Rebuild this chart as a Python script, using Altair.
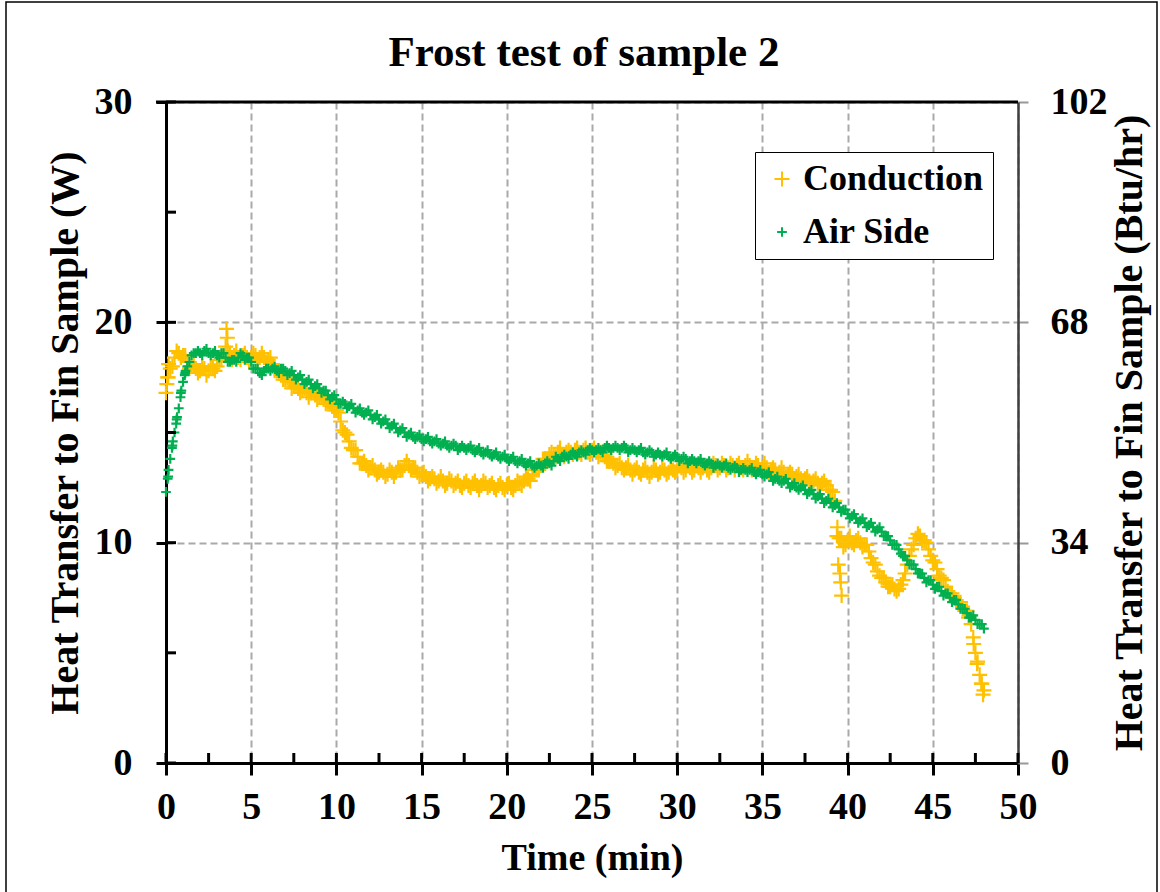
import altair as alt
import pandas as pd

# ---------------- data ----------------
SERIES = ["Conduction", "Air Side"]
COLORS = ["#FFC000", "#00B050"]

T_STEP = 0.25  # minutes between regular samples

# Conduction heat transfer (W), one row per minute: t = k, k+.25, k+.5, k+.75
COND_W = [
    16.8, 17.9, 18.4, 18.6,
    18.5, 18.2, 18.0, 17.9,
    17.8, 17.9, 17.8, 17.9,
    18.0, 18.3, 18.9, 18.6,
    18.5, 18.4, 18.5, 18.4,
    18.4, 18.5, 18.4, 18.4,
    18.3, 18.1, 17.8, 17.6,
    17.4, 17.3, 17.1, 17.0,
    16.9, 16.8, 16.8, 16.7,
    16.6, 16.5, 16.4, 16.2,
    16.0, 15.5, 15.0, 14.6,
    14.2, 13.9, 13.6, 13.5,
    13.4, 13.3, 13.2, 13.2,
    13.1, 13.2, 13.2, 13.3,
    13.5, 13.5, 13.4, 13.2,
    13.1, 13.0, 12.9, 12.9,
    12.8, 12.8, 12.7, 12.8,
    12.7, 12.6, 12.7, 12.6,
    12.7, 12.6, 12.6, 12.7,
    12.6, 12.5, 12.6, 12.5,
    12.6, 12.5, 12.6, 12.7,
    12.8, 12.9, 13.1, 13.3,
    13.5, 13.8, 14.0, 14.0,
    14.1, 14.0, 14.1, 14.1,
    14.2, 14.1, 14.2, 14.1,
    14.2, 14.1, 14.1, 13.9,
    13.7, 13.6, 13.5, 13.4,
    13.4, 13.3, 13.3, 13.2,
    13.3, 13.2, 13.2, 13.3,
    13.2, 13.3, 13.2, 13.3,
    13.3, 13.4, 13.3, 13.4,
    13.3, 13.4, 13.4, 13.3,
    13.4, 13.5, 13.4, 13.5,
    13.4, 13.5, 13.5, 13.4,
    13.5, 13.5, 13.4, 13.5,
    13.4, 13.4, 13.3, 13.3,
    13.2, 13.2, 13.1, 13.1,
    13.0, 12.9, 12.9, 12.8,
    12.8, 12.7, 12.7, 12.6,
    12.4, 11.9, 10.2, 9.8,
    10.1, 10.0, 10.1, 10.0,
    9.9, 9.6, 9.1, 8.7,
    8.4, 8.2, 8.0, 7.9,
    7.9, 8.3, 9.0, 9.7,
    10.2, 10.3, 10.1, 9.7,
    9.2, 8.8, 8.4, 8.0,
    7.7, 7.5, 7.3, 7.1,
    6.9, 6.3, 5.0, 4.0,
    3.3,
]

# Conduction samples in between (t = k+.125, k+.375, k+.625, k+.875)
COND_W_MID = [
    17.5, 18.0, 18.7, 18.4,
    18.5, 17.9, 18.1, 17.7,
    18.0, 17.6, 18.0, 17.8,
    18.3, 18.5, 18.7, 18.3,
    18.7, 18.3, 18.6, 18.2,
    18.6, 18.3, 18.6, 18.2,
    18.4, 17.8, 17.8, 17.4,
    17.5, 17.0, 17.2, 16.8,
    17.0, 16.6, 16.9, 16.5,
    16.7, 16.3, 16.4, 16.0,
    15.9, 15.1, 14.9, 14.3,
    14.2, 13.6, 13.7, 13.3,
    13.5, 13.1, 13.3, 13.0,
    13.3, 13.0, 13.4, 13.3,
    13.7, 13.3, 13.4, 13.0,
    13.2, 12.8, 13.0, 12.7,
    13.0, 12.6, 12.9, 12.6,
    12.8, 12.5, 12.8, 12.5,
    12.8, 12.4, 12.8, 12.5,
    12.7, 12.4, 12.7, 12.4,
    12.7, 12.4, 12.8, 12.6,
    13.0, 12.8, 13.3, 13.3,
    13.8, 13.7, 14.1, 13.9,
    14.3, 13.9, 14.2, 14.0,
    14.3, 14.0, 14.3, 14.0,
    14.3, 13.9, 14.1, 13.7,
    13.8, 13.4, 13.6, 13.3,
    13.5, 13.1, 13.4, 13.1,
    13.4, 13.0, 13.4, 13.1,
    13.4, 13.1, 13.4, 13.2,
    13.5, 13.2, 13.5, 13.2,
    13.5, 13.2, 13.5, 13.2,
    13.6, 13.3, 13.6, 13.3,
    13.6, 13.3, 13.6, 13.3,
    13.7, 13.3, 13.6, 13.3,
    13.6, 13.2, 13.4, 13.1,
    13.4, 13.0, 13.2, 12.9,
    13.1, 12.8, 13.0, 12.7,
    12.9, 12.6, 12.8, 12.4,
    12.3, 10.3, 10.2, 9.9,
    10.3, 9.9, 10.2, 9.8,
    9.9, 9.3, 9.0, 8.5,
    8.4, 8.0, 8.1, 7.8,
    8.1, 8.6, 9.4, 9.9,
    10.4, 10.1, 10.0, 9.4,
    9.1, 8.5, 8.3, 7.8,
    7.7, 7.3, 7.3, 6.9,
    6.7, 5.7, 4.6, 3.6,
]

# Extra conduction samples (spikes / steep parts)
COND_EXTRA_T = [0.05, 0.1, 0.15, 3.55, 3.6, 39.4, 39.45, 39.55, 39.6, 39.65, 47.1, 47.4, 47.6, 47.85, 47.95]
COND_EXTRA_W = [17.2, 17.5, 18.1, 19.7, 19.3, 10.7, 9.0, 8.6, 8.2, 7.6, 6.6, 5.4, 4.5, 3.6, 3.1]

# Air side heat transfer (W)
AIR_W = [
    12.3, 13.8, 15.0, 16.1,
    17.3, 18.0, 18.5, 18.6,
    18.6, 18.7, 18.6, 18.6,
    18.5, 18.6, 18.4, 18.2,
    18.3, 18.4, 18.5, 18.4,
    18.2, 17.9, 17.7, 17.8,
    17.9, 17.9, 17.8, 17.9,
    17.8, 17.7, 17.6, 17.5,
    17.4, 17.3, 17.2, 17.1,
    17.0, 16.9, 16.7, 16.6,
    16.5, 16.3, 16.3, 16.2,
    16.1, 16.0, 15.9, 15.9,
    15.8, 15.7, 15.6, 15.5,
    15.4, 15.3, 15.2, 15.1,
    15.0, 14.9, 14.8, 14.8,
    14.7, 14.7, 14.6, 14.6,
    14.5, 14.5, 14.4, 14.4,
    14.4, 14.3, 14.3, 14.3,
    14.2, 14.2, 14.1, 14.1,
    14.0, 14.0, 13.9, 13.9,
    13.8, 13.8, 13.7, 13.7,
    13.6, 13.6, 13.5, 13.5,
    13.5, 13.6, 13.6, 13.7,
    13.8, 13.9, 13.9, 14.0,
    14.0, 14.1, 14.1, 14.2,
    14.2, 14.2, 14.2, 14.3,
    14.3, 14.3, 14.3, 14.3,
    14.3, 14.2, 14.2, 14.2,
    14.1, 14.1, 14.1, 14.0,
    14.0, 14.0, 13.9, 13.9,
    13.9, 13.8, 13.8, 13.7,
    13.7, 13.7, 13.6, 13.6,
    13.6, 13.5, 13.5, 13.5,
    13.4, 13.4, 13.4, 13.3,
    13.3, 13.3, 13.2, 13.2,
    13.1, 13.1, 13.0, 12.9,
    12.8, 12.8, 12.7, 12.6,
    12.5, 12.5, 12.4, 12.3,
    12.2, 12.1, 12.0, 11.9,
    11.8, 11.7, 11.6, 11.5,
    11.3, 11.2, 11.1, 11.0,
    10.9, 10.8, 10.7, 10.6,
    10.5, 10.3, 10.1, 9.9,
    9.7, 9.4, 9.2, 9.0,
    8.8, 8.6, 8.4, 8.3,
    8.1, 8.0, 7.8, 7.7,
    7.5, 7.4, 7.2, 7.0,
    6.8, 6.6, 6.5, 6.3,
    6.1,
]

# Air side samples in between (t = k+.125, k+.375, k+.625, k+.875)
AIR_W_MID = [
    13.0, 14.4, 15.6, 16.8,
    17.7, 18.2, 18.6, 18.7,
    18.5, 18.8, 18.5, 18.7,
    18.4, 18.6, 18.2, 18.3,
    18.2, 18.6, 18.3, 18.4,
    17.9, 17.9, 17.6, 17.9,
    17.8, 18.0, 17.7, 17.9,
    17.6, 17.8, 17.4, 17.6,
    17.2, 17.4, 17.0, 17.2,
    16.8, 16.9, 16.5, 16.7,
    16.3, 16.4, 16.1, 16.3,
    15.9, 16.1, 15.8, 16.0,
    15.6, 15.8, 15.4, 15.6,
    15.2, 15.4, 15.0, 15.2,
    14.8, 15.0, 14.7, 14.9,
    14.6, 14.8, 14.5, 14.7,
    14.4, 14.6, 14.3, 14.5,
    14.2, 14.4, 14.2, 14.4,
    14.1, 14.3, 14.0, 14.2,
    13.9, 14.1, 13.8, 14.0,
    13.7, 13.9, 13.6, 13.8,
    13.5, 13.7, 13.4, 13.6,
    13.4, 13.7, 13.5, 13.9,
    13.7, 14.0, 13.8, 14.1,
    13.9, 14.2, 14.0, 14.3,
    14.1, 14.3, 14.1, 14.4,
    14.2, 14.4, 14.2, 14.4,
    14.1, 14.3, 14.1, 14.3,
    14.0, 14.2, 13.9, 14.1,
    13.9, 14.1, 13.8, 14.0,
    13.7, 13.9, 13.6, 13.8,
    13.6, 13.8, 13.5, 13.7,
    13.4, 13.6, 13.4, 13.6,
    13.3, 13.5, 13.2, 13.4,
    13.2, 13.4, 13.1, 13.3,
    13.0, 13.2, 12.8, 13.0,
    12.7, 12.9, 12.5, 12.7,
    12.4, 12.6, 12.2, 12.4,
    12.0, 12.2, 11.8, 12.0,
    11.6, 11.8, 11.4, 11.5,
    11.1, 11.3, 10.9, 11.1,
    10.7, 10.9, 10.5, 10.7,
    10.3, 10.3, 9.9, 9.9,
    9.5, 9.4, 9.0, 9.0,
    8.6, 8.6, 8.2, 8.3,
    7.9, 8.0, 7.6, 7.7,
    7.3, 7.4, 7.0, 7.0,
    6.6, 6.7, 6.3, 6.3,
]

# Extra air side samples on the steep initial rise
AIR_EXTRA_T = [0.1, 0.15, 0.35, 0.4, 0.6, 0.65, 0.85, 0.9, 1.1, 1.15]
AIR_EXTRA_W = [12.9, 13.3, 14.3, 14.6, 15.4, 15.7, 16.6, 16.9, 17.6, 17.8]

X_MAJOR = [0, 5, 10, 15, 20, 25, 30, 35, 40, 45, 50]
X_INNER_TICKS = [0, 2.5, 5, 7.5, 10, 12.5, 15, 17.5, 20, 22.5, 25, 27.5, 30, 32.5,
                 35, 37.5, 40, 42.5, 45, 47.5, 50]
Y_MAJOR = [0, 10, 20, 30]
Y_INNER_TICKS = [0, 5, 10, 15, 20, 25, 30]
Y2_MAJOR = [0, 34, 68, 102]

# ---------------- build table ----------------
rows = []
for i, w in enumerate(COND_W):
    rows.append({"t": round(i * T_STEP, 3), "w": w, "series": "Conduction"})
for i, w in enumerate(COND_W_MID):
    rows.append({"t": round(T_STEP / 2 + i * T_STEP, 3), "w": w, "series": "Conduction"})
for t, w in zip(COND_EXTRA_T, COND_EXTRA_W):
    rows.append({"t": t, "w": w, "series": "Conduction"})
for i, w in enumerate(AIR_W):
    rows.append({"t": round(i * T_STEP, 3), "w": w, "series": "Air Side"})
for i, w in enumerate(AIR_W_MID):
    rows.append({"t": round(T_STEP / 2 + i * T_STEP, 3), "w": w, "series": "Air Side"})
for t, w in zip(AIR_EXTRA_T, AIR_EXTRA_W):
    rows.append({"t": t, "w": w, "series": "Air Side"})
df = pd.DataFrame(rows)

FONT = "Liberation Serif"
PLUS = "M-1,0L1,0M0,-1L0,1"
W, H = 852, 661
GRID = "#A9A9A9"
LBL = 38

x_scale = alt.Scale(domain=[0, 50], nice=False, zero=False)
y_scale = alt.Scale(domain=[0, 30], nice=False)

X_AXIS = alt.Axis(
    values=X_MAJOR, title="Time (min)", grid=True, gridDash=[7, 4], gridColor=GRID, gridWidth=2,
    domainColor="black", domainWidth=3, tickColor="black", tickWidth=3, tickSize=12,
    labelFont=FONT, labelFontSize=LBL, labelFontWeight="bold", labelColor="black", labelPadding=13,
    labelFlush=False, labelOverlap=False,
    titleFont=FONT, titleFontSize=38, titleFontWeight="bold", titleColor="black", titlePadding=13)

Y_AXIS = alt.Axis(
    values=Y_MAJOR, title="Heat Transfer to Fin Sample (W)", grid=True, gridDash=[7, 4],
    gridColor=GRID, gridWidth=2, domainColor="black", domainWidth=3, tickColor="black",
    tickWidth=3, tickSize=10, labelFont=FONT, labelFontSize=LBL, labelFontWeight="bold",
    labelColor="black", labelPadding=24, labelFlush=False, titleFont=FONT, titleFontSize=40,
    titleFontWeight="bold", titleColor="black", titlePadding=9)

legend_cfg = alt.Legend(
    title=None, orient="none", legendX=589, legendY=50, direction="vertical",
    fillColor="white", strokeColor="black", padding=9,
    labelFont=FONT, labelFontSize=36, labelFontWeight="bold", labelColor="black",
    symbolType=PLUS, symbolStrokeWidth=2, rowPadding=17, labelOffset=3, labelLimit=0,
)

points = alt.Chart(df).mark_point(shape=PLUS, filled=False, strokeWidth=2.2, opacity=1).encode(
    x=alt.X("t:Q", scale=x_scale, axis=X_AXIS),
    y=alt.Y("w:Q", scale=y_scale, axis=Y_AXIS),
    color=alt.Color("series:N", scale=alt.Scale(domain=SERIES, range=COLORS), legend=legend_cfg),
    size=alt.Size("series:N", scale=alt.Scale(domain=SERIES, range=[225, 95]), legend=legend_cfg),
)

yticks_in = alt.Chart(pd.DataFrame({"v": Y_INNER_TICKS})).mark_rule(color="black", strokeWidth=3).encode(
    y=alt.Y("v:Q", scale=y_scale, axis=Y_AXIS), x=alt.value(0), x2=alt.value(10))
xticks_in = alt.Chart(pd.DataFrame({"v": X_INNER_TICKS})).mark_rule(color="black", strokeWidth=3).encode(
    x=alt.X("v:Q", scale=x_scale, axis=X_AXIS), y=alt.value(H), y2=alt.value(H - 10))
top_line = alt.Chart(pd.DataFrame({"v": [0]})).mark_rule(color="black", strokeWidth=3).encode(
    x=alt.value(-10), x2=alt.value(W), y=alt.value(0))
# thin frame round the whole chart area
border = alt.Chart(pd.DataFrame({"v": [0]})).mark_rect(
    fill="white", fillOpacity=0, stroke="black", strokeWidth=1.5).encode(
    x=alt.value(-160), x2=alt.value(W + 139), y=alt.value(-100), y2=alt.value(H + 140))

left = alt.layer(border, points, yticks_in, xticks_in, top_line)

right = alt.Chart(pd.DataFrame({"t": [0], "b": [0]})).mark_point(opacity=0).encode(
    x=alt.X("t:Q", scale=x_scale, axis=X_AXIS),
    y=alt.Y("b:Q", scale=alt.Scale(domain=[0, 102], nice=False), axis=alt.Axis(
        orient="right", values=Y2_MAJOR, title="Heat Transfer to Fin Sample (Btu/hr)", grid=False,
        domainColor="#404040", domainWidth=2.5, tickColor="#999999", tickWidth=2, tickSize=10,
        labelFont=FONT, labelFontSize=LBL, labelFontWeight="bold", labelColor="black", labelPadding=22,
        labelFlush=False, titleFont=FONT, titleFontSize=40, titleFontWeight="bold", titleColor="black",
        titleAngle=270, titlePadding=42)),
)

chart = alt.layer(left, right).resolve_scale(y="independent").properties(
    width=W, height=H,
    padding={"left": 166, "top": 102, "right": 142, "bottom": 129},
    autosize=alt.AutoSizeParams(type="none"),
    title=alt.TitleParams("Frost test of sample 2", font=FONT, fontSize=43, fontWeight="bold",
                          color="black", anchor="middle", offset=0, dy=74, dx=-8),
    background="white",
).configure_view(stroke=None)

chart.save("out.html", embed_options={"renderer": "svg", "actions": False})
